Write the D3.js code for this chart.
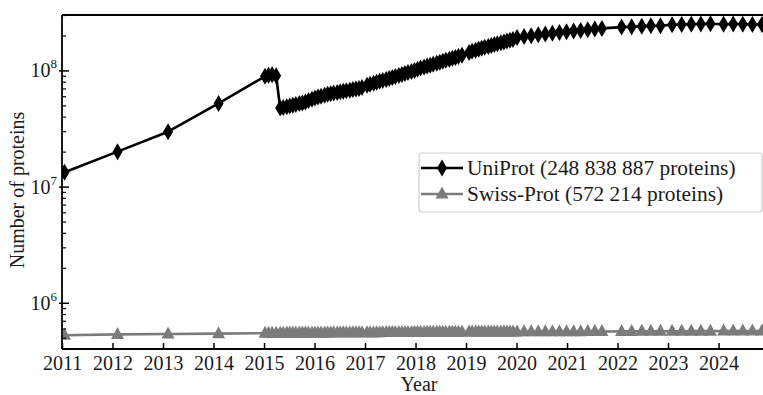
<!DOCTYPE html>
<html>
<head>
<meta charset="utf-8">
<script src="https://cdn.jsdelivr.net/npm/d3@7"></script>
<style>
  html, body { margin: 0; padding: 0; background: #fff; }
  svg { display: block; font-family: "Liberation Serif", "Times New Roman", serif; }
</style>
</head>
<body>
<svg id="chart" width="763" height="395"></svg>
<script>
// ---------- data ----------
const releaseDates = [
  2011.05, 2012.10, 2013.10, 2014.10,
  2015.02, 2015.09, 2015.16, 2015.24,
  2015.32, 2015.38, 2015.45, 2015.51, 2015.57, 2015.63, 2015.70, 2015.76, 2015.82, 2015.88, 2015.95,
  2016.01, 2016.07, 2016.13, 2016.20, 2016.26, 2016.32, 2016.38, 2016.45, 2016.51, 2016.57, 2016.63, 2016.70, 2016.76, 2016.82, 2016.88, 2016.94,
  2017.04, 2017.10, 2017.17, 2017.23, 2017.29, 2017.35, 2017.42, 2017.48, 2017.54, 2017.60, 2017.67, 2017.73, 2017.79, 2017.85, 2017.92, 2017.98,
  2018.04, 2018.10, 2018.17, 2018.23, 2018.29, 2018.35, 2018.42, 2018.48, 2018.54, 2018.60, 2018.67, 2018.73, 2018.79, 2018.85, 2018.92,
  2019.06, 2019.12, 2019.19, 2019.25, 2019.31, 2019.37, 2019.44, 2019.50, 2019.56, 2019.62, 2019.69, 2019.75, 2019.81, 2019.87, 2019.93,
  2020.01, 2020.15, 2020.29, 2020.43, 2020.57, 2020.71, 2020.85, 2020.99, 2021.13, 2021.27, 2021.41, 2021.55, 2021.69,
  2022.08, 2022.28, 2022.48, 2022.66, 2022.85,
  2023.08, 2023.27, 2023.46, 2023.65, 2023.84,
  2024.10, 2024.29, 2024.48, 2024.67, 2024.86
];

// UniProt sizes, millions of entries
const uniprotMillions = [
  13.3, 20.0, 29.7, 52.0,
  89, 91, 92, 90,
  47.5, 48.0, 48.6, 49.4, 50.1, 50.9, 51.8, 52.5, 53.6, 55.0, 56.6,
  57.9, 59.2, 60.0, 61.0, 62.4, 63.0, 63.8, 64.5, 65.4, 66.2, 66.9, 67.6, 68.4, 69.2, 70.0, 71.2,
  74.5, 76.0, 77.5, 79.0, 80.5, 82.0, 83.5, 85.2, 87.0, 88.7, 90.4, 92.2, 94.0, 96.0, 98.0, 100.0,
  102.5, 104.8, 107.0, 109.0, 111.0, 113.2, 115.5, 117.8, 120.0, 122.3, 124.6, 127.0, 129.5, 132.0, 135.0,
  143, 146, 149, 152, 155, 158, 161, 164, 167, 170, 173, 176, 179, 182, 185,
  192, 196, 199, 203, 206, 209, 212, 215, 218, 221, 224, 227, 230,
  236, 238, 240, 242, 243,
  247, 248, 250, 251, 252,
  250, 251, 250, 249, 248.8
];

// Swiss-Prot sizes, thousands of entries
const swissprotThousands = [
  525, 535, 539, 542,
  547, 547, 548, 548,
  548, 548, 549, 549, 549, 549, 549, 550, 550, 550, 550,
  550, 551, 551, 551, 551, 551, 552, 552, 552, 552, 552, 553, 553, 553, 553, 553,
  554, 554, 554, 554, 554, 555, 555, 555, 555, 555, 556, 556, 556, 556, 556, 557,
  557, 557, 557, 557, 558, 558, 558, 558, 558, 559, 559, 559, 559, 559, 560,
  560, 560, 560, 560, 561, 561, 561, 561, 561, 562, 562, 562, 562, 562, 562,
  562, 563, 563, 563, 564, 564, 564, 565, 565, 565, 566, 566, 566,
  567, 567, 568, 568, 568,
  569, 569, 570, 570, 570,
  571, 571, 572, 572, 572.214
];

const yearTicks = [2011, 2012, 2013, 2014, 2015, 2016, 2017, 2018, 2019, 2020, 2021, 2022, 2023, 2024];
const yMajorExponents = [6, 7, 8];
const legendLabels = ["UniProt (248 838 887 proteins)", "Swiss-Prot (572 214 proteins)"];
const axisTitles = { x: "Year", y: "Number of proteins" };

// ---------- layout ----------
const W = 763, H = 395;
const plot = { left: 62, top: 15, right: 764, bottom: 349 };
const colors = { uni: "#000000", swiss: "#7b7b7b", text: "#1a1a1a" };

const svg = d3.select("#chart");

const x = d3.scaleLinear().domain([2011, 2024.9]).range([plot.left, plot.right]);
const y = d3.scaleLog().domain([4.0e5, 3.0e8]).range([plot.bottom, plot.top]);

const uniData = releaseDates.map((d, i) => ({ t: d, v: uniprotMillions[i] * 1e6 }));
const swissData = releaseDates.map((d, i) => ({ t: d, v: swissprotThousands[i] * 1e3 }));

// clip
svg.append("defs").append("clipPath").attr("id", "clip")
  .append("rect")
  .attr("x", plot.left).attr("y", plot.top - 2)
  .attr("width", plot.right - plot.left).attr("height", plot.bottom - plot.top + 2);

// marker shapes
const diamondPath = (w, h) => `M0,${-h/2}L${w/2},0L0,${h/2}L${-w/2},0Z`;
const trianglePath = (w, h) => `M0,${-h*0.62}L${w/2},${h*0.38}L${-w/2},${h*0.38}Z`;
const DIA = diamondPath(10, 17);
const TRI = trianglePath(13, 12);

const line = d3.line().x(d => x(d.t)).y(d => y(d.v));

const g = svg.append("g").attr("clip-path", "url(#clip)");

// UniProt
g.append("path").datum(uniData)
  .attr("d", line).attr("fill", "none")
  .attr("stroke", colors.uni).attr("stroke-width", 2.6).attr("stroke-linejoin", "round");
g.append("g").selectAll("path").data(uniData).join("path")
  .attr("transform", d => `translate(${x(d.t)},${y(d.v)})`)
  .attr("d", DIA).attr("fill", colors.uni);

// Swiss-Prot
g.append("path").datum(swissData)
  .attr("d", line).attr("fill", "none")
  .attr("stroke", colors.swiss).attr("stroke-width", 2.6).attr("stroke-linejoin", "round");
g.append("g").selectAll("path").data(swissData).join("path")
  .attr("transform", d => `translate(${x(d.t)},${y(d.v)})`)
  .attr("d", TRI).attr("fill", colors.swiss);

// ---------- axes ----------
const xAxis = d3.axisBottom(x).tickValues(yearTicks).tickFormat(d3.format("d"))
  .tickSizeInner(-6).tickSizeOuter(0).tickPadding(7);
const xg = svg.append("g").attr("transform", `translate(0,${plot.bottom})`).call(xAxis);
xg.select(".domain").remove();
xg.selectAll(".tick line").attr("stroke", "#000").attr("stroke-width", 1.5);
xg.selectAll(".tick text").attr("font-size", 20).attr("fill", colors.text)
  .attr("font-family", "'Liberation Serif', 'Times New Roman', serif");

// minor y ticks
const minorVals = [];
[5, 6, 7, 8].forEach(e => { for (let m = 1; m <= 9; m++) { const v = m * Math.pow(10, e); if (v >= 4e5 && v <= 3e8 && m !== 1) minorVals.push(v); } });
const yMinor = d3.axisLeft(y).tickValues(minorVals).tickFormat("").tickSizeInner(-4).tickSizeOuter(0);
const ymg = svg.append("g").attr("transform", `translate(${plot.left},0)`).call(yMinor);
ymg.select(".domain").remove();
ymg.selectAll(".tick line").attr("stroke", "#000").attr("stroke-width", 1.2);

const yMajorVals = yMajorExponents.map(e => Math.pow(10, e));
const yMajor = d3.axisLeft(y).tickValues(yMajorVals).tickFormat("").tickSizeInner(-7).tickSizeOuter(0);
const ymj = svg.append("g").attr("transform", `translate(${plot.left},0)`).call(yMajor);
ymj.select(".domain").remove();
ymj.selectAll(".tick line").attr("stroke", "#000").attr("stroke-width", 1.5).attr("x1", -3);

// y labels with superscript
yMajorExponents.forEach(e => {
  const t = svg.append("text")
    .attr("x", 57).attr("y", y(Math.pow(10, e)) + 7)
    .attr("text-anchor", "end").attr("font-size", 20).attr("fill", colors.text);
  t.append("tspan").text("10");
  t.append("tspan").attr("dy", -9).attr("font-size", 13).text(String(e));
});

// frame (left, bottom, top spines)
svg.append("line").attr("x1", plot.left).attr("x2", plot.left).attr("y1", plot.top).attr("y2", plot.bottom)
  .attr("stroke", "#000").attr("stroke-width", 1.8);
svg.append("line").attr("x1", plot.left).attr("x2", plot.right).attr("y1", plot.bottom).attr("y2", plot.bottom)
  .attr("stroke", "#000").attr("stroke-width", 1.8);
svg.append("line").attr("x1", plot.left).attr("x2", plot.right).attr("y1", plot.top).attr("y2", plot.top)
  .attr("stroke", "#000").attr("stroke-width", 1.8);

// axis titles
svg.append("text").attr("x", 419).attr("y", 390.5).attr("text-anchor", "middle")
  .attr("font-size", 20).attr("fill", colors.text).text(axisTitles.x);
svg.append("text").attr("transform", `translate(24,${(plot.top + plot.bottom) / 2 + 8}) rotate(-90)`)
  .attr("text-anchor", "middle").attr("font-size", 20).attr("fill", colors.text).text(axisTitles.y);

// ---------- legend ----------
const lg = svg.append("g");
lg.append("rect").attr("x", 419).attr("y", 153).attr("width", 343).attr("height", 59)
  .attr("rx", 3).attr("fill", "#fff").attr("stroke", "#cfcfcf").attr("stroke-width", 1.2);
const legendItems = [
  { label: legendLabels[0], color: colors.uni, shape: DIA, yy: 168 },
  { label: legendLabels[1], color: colors.swiss, shape: TRI, yy: 194 }
];
legendItems.forEach(it => {
  lg.append("line").attr("x1", 421).attr("x2", 463).attr("y1", it.yy).attr("y2", it.yy)
    .attr("stroke", it.color).attr("stroke-width", 2.6);
  lg.append("path").attr("transform", `translate(442,${it.yy})`).attr("d", it.shape).attr("fill", it.color);
  lg.append("text").attr("x", 467).attr("y", it.yy + 7).attr("font-size", 21.4)
    .attr("fill", colors.text).text(it.label);
});
</script>
</body>
</html>
